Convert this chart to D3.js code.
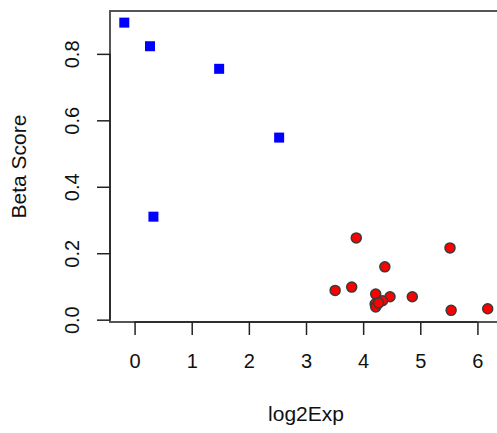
<!DOCTYPE html>
<html>
<head>
<meta charset="utf-8">
<script src="https://cdn.jsdelivr.net/npm/d3@7"></script>
<style>
  body { margin: 0; background: #fff; }
  svg { display: block; font-family: "Liberation Sans", Arial, sans-serif; }
</style>
</head>
<body>
<svg width="497" height="433"></svg>
<script>
// blue squares
var blueX = [-0.18, 0.27, 1.48, 2.53, 0.33];
var blueY = [0.894, 0.823, 0.755, 0.548, 0.310];
// red circles
var redX = [3.88, 5.52, 4.38, 3.51, 3.80, 4.22, 4.47, 4.86, 5.54, 6.18, 4.34, 4.21, 4.22, 4.27];
var redY = [0.246, 0.216, 0.159, 0.088, 0.098, 0.077, 0.069, 0.069, 0.028, 0.033, 0.057, 0.047, 0.038, 0.050];
var xTicks = [0, 1, 2, 3, 4, 5, 6];
var yTicks = [0.0, 0.2, 0.4, 0.6, 0.8];

(function() {
    var svg = d3.select("svg"),
        pl = 110, pr = 502, pt = 11, pb = 322;

    var x = d3.scaleLinear().domain([-0.43, 6.43]).range([pl, pr]),
        y = d3.scaleLinear().domain([-0.007, 0.929]).range([pb, pt]);

    // box
    svg.append("rect")
        .attr("x", pl).attr("y", pt)
        .attr("width", pr - pl).attr("height", pb - pt)
        .attr("fill", "none")
        .attr("stroke", "#555")
        .attr("stroke-width", 2);

    var xAxis = d3.axisBottom(x).tickValues(xTicks).tickSize(13).tickPadding(19)
        .tickFormat(d3.format("d"));
    var yAxis = d3.axisLeft(y).tickValues(yTicks).tickSize(13)
        .tickFormat(d3.format(".1f"));

    var gx = svg.append("g")
        .attr("transform", "translate(0," + pb + ")")
        .call(xAxis);
    gx.attr("font-size", 20).attr("font-family", "Liberation Sans, Arial, sans-serif");
    gx.select(".domain").attr("d", "M" + x(0) + ",0H" + x(6)).attr("stroke", "#222").attr("stroke-width", 1.5);
    gx.selectAll(".tick line").attr("stroke", "#222").attr("stroke-width", 1.5);
    gx.selectAll(".tick text").attr("fill", "#111");

    var gy = svg.append("g")
        .attr("transform", "translate(" + pl + ",0)")
        .call(yAxis);
    gy.attr("font-size", 20).attr("font-family", "Liberation Sans, Arial, sans-serif");
    gy.select(".domain").attr("d", "M0," + y(0) + "V" + y(0.8)).attr("stroke", "#222").attr("stroke-width", 1.5);
    gy.selectAll(".tick line").attr("stroke", "#222").attr("stroke-width", 1.5);
    gy.selectAll(".tick text")
        .attr("fill", "#111")
        .attr("text-anchor", "middle")
        .attr("dy", 0)
        .attr("x", 0)
        .attr("transform", "translate(-31,0) rotate(-90)");

    // points
    svg.selectAll(".sq")
        .data(blueX.map(function(d, i) { return [d, blueY[i]]; }))
        .enter().append("rect")
        .attr("class", "sq")
        .attr("x", function(d) { return x(d[0]) - 5; })
        .attr("y", function(d) { return y(d[1]) - 5; })
        .attr("width", 10).attr("height", 10)
        .attr("fill", "#0000ff");

    svg.selectAll(".pt")
        .data(redX.map(function(d, i) { return [d, redY[i]]; }))
        .enter().append("circle")
        .attr("class", "pt")
        .attr("cx", function(d) { return x(d[0]); })
        .attr("cy", function(d) { return y(d[1]); })
        .attr("r", 5)
        .attr("fill", "#ff0000")
        .attr("stroke", "#3a3a3a")
        .attr("stroke-width", 1.5);

    // titles
    svg.append("text")
        .attr("x", (pl + pr) / 2).attr("y", 421)
        .attr("text-anchor", "middle")
        .attr("font-size", 21)
        .attr("fill", "#111")
        .text("log2Exp");

    svg.append("text")
        .attr("transform", "translate(26," + (pt + pb) / 2 + ") rotate(-90)")
        .attr("text-anchor", "middle")
        .attr("font-size", 21)
        .attr("fill", "#111")
        .text("Beta Score");
})();
</script>
</body>
</html>
